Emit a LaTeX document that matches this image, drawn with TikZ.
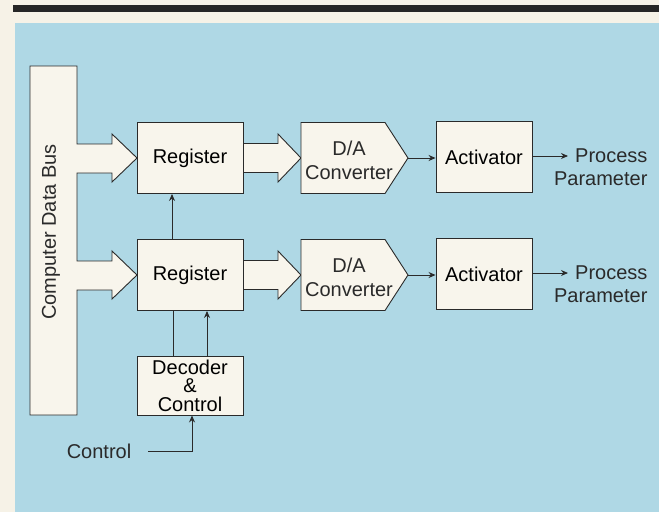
\documentclass[tikz,border=0pt]{standalone}
\usepackage{fontspec}
\setmainfont{Liberation Sans}
\usepackage{tikz}
\usetikzlibrary{arrows.meta}
\definecolor{cbg}{HTML}{F6F2E7}
\definecolor{cblue}{HTML}{AFD8E5}
\definecolor{cbox}{HTML}{F8F5EC}
\definecolor{cline}{HTML}{2A2A2A}

\tikzset{
  box/.style={draw=cline,fill=cbox,line width=0.9pt,minimum width=106pt,minimum height=71pt,
    font=\fontsize{20}{24}\selectfont},
  lbl/.style={font=\fontsize{20}{24}\selectfont,inner sep=0pt,text=cline},
  fat/.style={draw=cline,fill=cbox,line width=0.9pt,line join=miter},
  sig/.style={draw=cline,line width=0.9pt,-{Stealth[length=7pt,width=6pt]}}
}

\begin{document}
\begin{tikzpicture}[x=1pt,y=-1pt]
  \useasboundingbox (0,0) rectangle (659,512);
  \fill[cbg] (0,0) rectangle (659,512);
  \fill[black!85] (13,5) rectangle (659,12);
  \fill[cblue] (15,23) rectangle (659,512);
  % bus with its two fat arrows
  \draw[fat] (30,66) -- (77,66) -- (77,144) -- (112,144) -- (112,134) -- (137,158)
    -- (112,182) -- (112,173) -- (77,173) -- (77,261) -- (112,261) -- (112,251)
    -- (137,275) -- (112,299) -- (112,290) -- (77,290) -- (77,415) -- (30,415) -- cycle;
  \node[lbl,rotate=90] (bus) at (51,232) {Computer Data Bus};
  \foreach \n/\y in {1/158,2/275} {
    % register to converter
    \draw[fat] (243,\y-14.5) -- (278,\y-14.5) -- (278,\y-24) -- (301,\y)
      -- (278,\y+24) -- (278,\y+14.5) -- (243,\y+14.5) -- cycle;
    \node[box] (reg\n) at (190,\y) {Register};
    \draw[fat] (301,\y-35.5) -- (385,\y-35.5) -- (408,\y) -- (385,\y+35.5)
      -- (301,\y+35.5) -- cycle;
    \node[lbl,align=center] (dac\n) at (349,\y+2) {D/A\\Converter};
    \coordinate (tip\n) at (408,\y);
    \node[box,minimum width=96pt] (act\n) at (484,\y-1) {Activator};
    \node[lbl,anchor=west] (proc\n) at (575,\y-2) {Process};
    \node[lbl,anchor=north east] (par\n) at ([yshift=-8pt]proc\n.south east) {Parameter};
    \draw[sig] (tip\n) -- (act\n.west |- tip\n);
    \draw[sig,shorten >=7pt] (act\n.east |- proc\n.west) -- (proc\n.west);
  }
  \node[box,minimum height=59pt,align=center,font=\fontsize{20}{18.5}\selectfont]
    (dec) at (190,385.5) {Decoder\\\&\\Control};
  \node[lbl] (ctl) at (99,451) {Control};
  \draw[sig] ([xshift=-18pt]reg2.north) -- ([xshift=-18pt]reg1.south);
  \draw[draw=cline,line width=0.9pt] ([xshift=-17pt]dec.north) -- ([xshift=-17pt]reg2.south);
  \draw[sig] ([xshift=17pt]dec.north) -- ([xshift=17pt]reg2.south);
  \draw[sig,shorten <=17pt] (ctl.east) -| ([xshift=2pt]dec.south);
\end{tikzpicture}
\end{document}
